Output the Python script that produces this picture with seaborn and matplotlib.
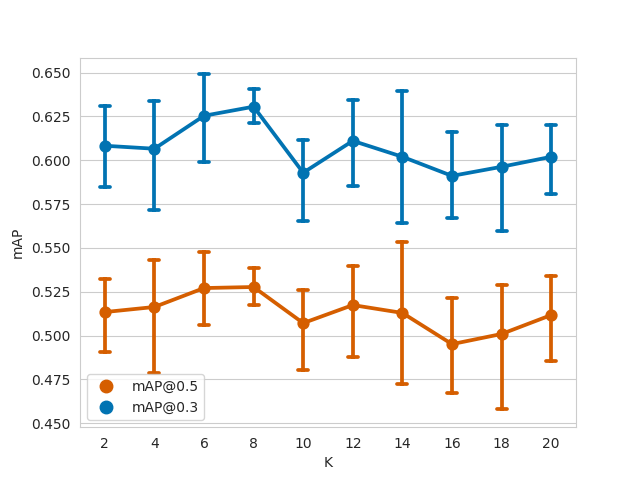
import matplotlib
matplotlib.use("Agg")
import matplotlib.pyplot as plt
from matplotlib.lines import Line2D
import seaborn as sns
import pandas as pd

K = [2, 4, 6, 8, 10, 12, 14, 16, 18, 20]

map05 = [0.5134, 0.5163, 0.5271, 0.5277, 0.5071, 0.5174, 0.5129, 0.4951, 0.5009, 0.5117]
map05_lo = [0.4906, 0.4786, 0.5060, 0.5174, 0.4803, 0.4877, 0.4723, 0.4671, 0.4580, 0.4854]
map05_hi = [0.5323, 0.5431, 0.5477, 0.5386, 0.5260, 0.5397, 0.5534, 0.5214, 0.5289, 0.5340]

map03 = [0.6083, 0.6066, 0.6254, 0.6306, 0.5929, 0.6111, 0.6020, 0.5911, 0.5963, 0.6020]
map03_lo = [0.5849, 0.5717, 0.5991, 0.6214, 0.5654, 0.5854, 0.5643, 0.5671, 0.5597, 0.5809]
map03_hi = [0.6311, 0.6340, 0.6494, 0.6409, 0.6117, 0.6346, 0.6397, 0.6163, 0.6203, 0.6203]

labels = ["mAP@0.5", "mAP@0.3"]
colors = ["#d55e00", "#0173b2"]

rows = []
for name, c, lo, hi in [(labels[0], map05, map05_lo, map05_hi),
                        (labels[1], map03, map03_lo, map03_hi)]:
    for k, v, l, h in zip(K, c, lo, hi):
        for val in (l, v, h):
            rows.append({"K": k, "metric": name, "mAP": val})
df = pd.DataFrame(rows)

sns.set_style("whitegrid")
fig, ax = plt.subplots(figsize=(6.4, 4.8), dpi=100)

for name, col in zip(labels, colors):
    sns.pointplot(data=df[df.metric == name], x="K", y="mAP", estimator="median",
                  errorbar=("pi", 100), capsize=0.2, color=col, ax=ax)

ax.set_ylim(0.4477, 0.6586)
ax.set_yticks([0.45, 0.475, 0.5, 0.525, 0.55, 0.575, 0.6, 0.625, 0.65])
ax.yaxis.set_major_formatter(matplotlib.ticker.FormatStrFormatter("%.3f"))
ax.set_xlabel("K")
ax.set_ylabel("mAP")

handles = [Line2D([], [], linestyle="none", marker="o", markersize=9, color=c) for c in colors]
ax.legend(handles, labels, loc="lower left", frameon=True)

fig.savefig("out.png", dpi=100)
